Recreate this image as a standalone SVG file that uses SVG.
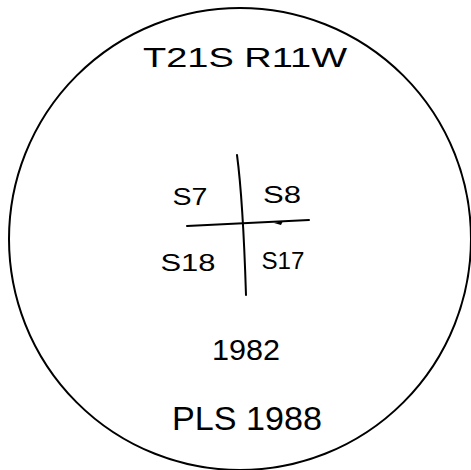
<svg xmlns="http://www.w3.org/2000/svg" width="471" height="470" viewBox="0 0 471 470">
<style>
.ln{fill:none;stroke:#000;stroke-width:2;stroke-linecap:round}
.t{font-family:"Liberation Sans",Arial,sans-serif;fill:#000;text-anchor:middle}
</style>
<rect width="471" height="470" fill="#fff"/>
<circle class="ln" cx="240" cy="239" r="231" stroke-width="1.4"/>
<g id="grid">
<path class="ln" d="M237,155 Q243,200 246,295"/>
<path class="ln" d="M187,226 L309,220"/>
<path d="M274,223 L283,221 L281,225 Z" fill="#000"/>
</g>
<g id="labels">
<text class="t" x="245" y="67" font-size="28" textLength="204" lengthAdjust="spacingAndGlyphs">T21S R11W</text>
<text class="t" x="190" y="205" font-size="24" textLength="35" lengthAdjust="spacingAndGlyphs">S7</text>
<text class="t" x="282" y="203" font-size="24" textLength="38" lengthAdjust="spacingAndGlyphs">S8</text>
<text class="t" x="188" y="271" font-size="24" textLength="55" lengthAdjust="spacingAndGlyphs">S18</text>
<text class="t" x="283" y="269" font-size="24" textLength="43" lengthAdjust="spacingAndGlyphs">S17</text>
<text class="t" x="246" y="360" font-size="29" textLength="68" lengthAdjust="spacingAndGlyphs">1982</text>
<text class="t" x="247" y="430" font-size="34" textLength="150" lengthAdjust="spacingAndGlyphs">PLS 1988</text>
</g>
</svg>
